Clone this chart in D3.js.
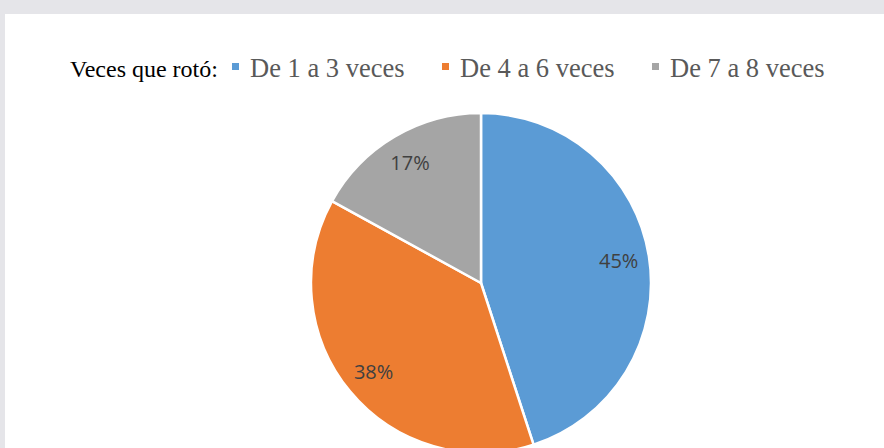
<!DOCTYPE html>
<html>
<head>
<meta charset="utf-8">
<script src="https://cdn.jsdelivr.net/npm/d3@7"></script>
<style>
  body { margin: 0; background: #e5e5e9; }
  svg { display: block; }
</style>
</head>
<body>
<script>
// data
var categories = ["De 1 a 3 veces", "De 4 a 6 veces", "De 7 a 8 veces"]
var values = [45, 38, 17]
var colors = ["#5b9bd5", "#ed7d31", "#a5a5a5"]
var legendTitle = "Veces que rotó:"

var width = 884, height = 448

var svg = d3.select("body")
  .append("svg")
  .attr("width", width)
  .attr("height", height)

// grey page behind, white chart area
svg.append("rect")
  .attr("width", width)
  .attr("height", height)
  .attr("fill", "#e5e5e9")
svg.append("rect")
  .attr("x", 5)
  .attr("y", 14)
  .attr("width", width - 5)
  .attr("height", height - 14)
  .attr("fill", "#ffffff")

// legend
var legend = svg.append("g")
  .attr("transform", "translate(0,77)")

legend.append("text")
  .attr("x", 70)
  .attr("y", 0)
  .style("font-family", "'Liberation Serif', 'Times New Roman', serif")
  .style("font-size", "24px")
  .attr("fill", "#000000")
  .text(legendTitle)

var itemX = d3.scalePoint()
  .domain(categories)
  .range([232, 652])

var items = legend.selectAll("g.item")
  .data(categories)
  .enter()
  .append("g")
  .attr("class", "item")
  .attr("transform", function(d) { return "translate(" + itemX(d) + ",0)" })

items.append("rect")
  .attr("x", 0)
  .attr("y", -14)
  .attr("width", 7)
  .attr("height", 7)
  .attr("fill", function(d, i) { return colors[i] })

items.append("text")
  .attr("x", 18)
  .attr("y", 0)
  .style("font-family", "'Liberation Serif', 'Times New Roman', serif")
  .style("font-size", "26.5px")
  .attr("fill", "#595959")
  .text(function(d) { return d })

// pie
var cx = 481, cy = 283, radius = 170

var pie = d3.pie()
  .sort(null)
  .value(function(d) { return d })

var arc = d3.arc()
  .innerRadius(0)
  .outerRadius(radius)

var labelArc = d3.arc()
  .innerRadius(radius * 0.82)
  .outerRadius(radius * 0.82)

var g = svg.append("g")
  .attr("transform", "translate(" + cx + "," + cy + ")")

var arcs = pie(values)

g.selectAll("path")
  .data(arcs)
  .enter()
  .append("path")
  .attr("d", arc)
  .attr("fill", function(d, i) { return colors[i] })
  .attr("stroke", "#ffffff")
  .attr("stroke-width", 2.5)
  .attr("stroke-linejoin", "round")

g.selectAll("text.pct")
  .data(arcs)
  .enter()
  .append("text")
  .attr("class", "pct")
  .attr("transform", function(d) { return "translate(" + labelArc.centroid(d) + ")" })
  .attr("text-anchor", "middle")
  .attr("dy", "0.35em")
  .style("font-family", "'Open Sans', 'Noto Sans', sans-serif")
  .style("font-size", "20px")
  .attr("fill", "#404040")
  .text(function(d) { return d.data + "%" })
</script>
</body>
</html>
